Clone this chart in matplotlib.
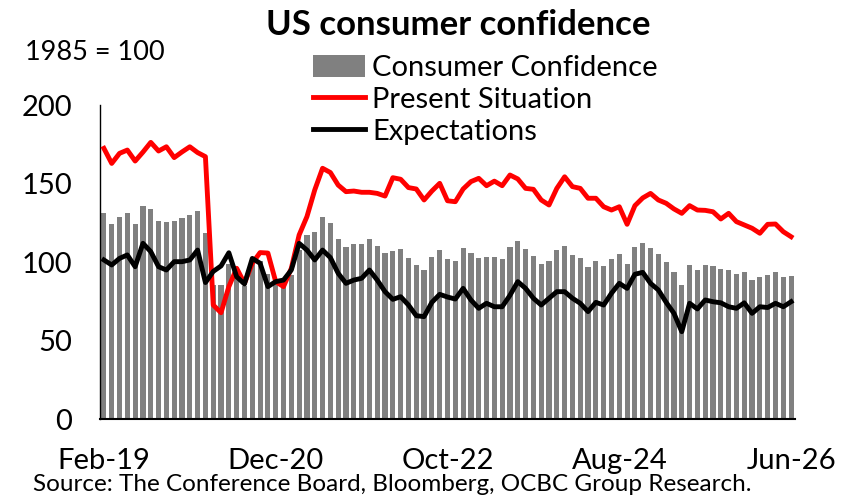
import matplotlib
matplotlib.use("Agg")
import matplotlib.pyplot as plt
import numpy as np

plt.rcParams['font.family'] = ['Lato', 'DejaVu Sans']

# ---- data (monthly, Feb-19 .. Jun-26) ----
tick_labels = ["Feb-19", "Dec-20", "Oct-22", "Aug-24", "Jun-26"]
tick_step = 22

consumer_confidence = [
    131.0, 124.0, 128.9, 131.0, 124.0, 135.7, 133.8, 125.9, 125.7, 126.3, 127.8, 129.9, 132.3, 118.3, 85.3,
    85.4, 98.5, 91.0, 84.5, 101.5, 100.5, 92.5, 86.0, 87.0, 91.7, 107.6, 117.2, 119.3, 128.9, 124.6,
    114.6, 109.3, 111.5, 111.5, 114.6, 110.4, 105.5, 107.0, 108.3, 102.7, 98.1, 94.9, 102.9, 107.6, 101.6,
    100.6, 108.7, 105.5, 102.7, 103.4, 103.2, 101.9, 109.6, 113.4, 108.1, 104.0, 98.7, 100.6, 107.6, 110.5,
    104.5, 102.7, 97.0, 100.8, 97.5, 101.7, 105.3, 99.0, 109.3, 112.3, 108.9, 105.1, 99.8, 93.4, 85.4,
    98.1, 94.9, 98.1, 97.2, 95.3, 94.9, 92.6, 93.8, 88.5, 90.4, 91.7, 93.4, 90.2, 90.8,
]
present_situation = [
    172.4, 162.8, 169.2, 171.3, 164.3, 170.0, 176.2, 170.7, 173.4, 166.5, 170.1, 173.4, 169.7, 167.1, 72.6,
    67.7, 84.3, 96.0, 86.4, 99.2, 106.0, 105.7, 87.5, 84.3, 96.0, 117.2, 128.9, 145.9, 159.7, 157.0,
    149.0, 144.8, 145.2, 144.4, 144.4, 143.7, 142.0, 153.7, 152.7, 147.4, 146.5, 139.5, 145.2, 150.1, 139.0,
    138.4, 146.5, 151.2, 153.3, 148.6, 151.5, 148.6, 155.4, 152.9, 146.9, 146.3, 139.5, 136.3, 146.9, 154.3,
    148.0, 146.9, 140.6, 140.6, 135.2, 133.1, 135.2, 124.0, 135.9, 140.8, 143.7, 139.5, 137.4, 133.8, 131.0,
    135.9, 133.1, 132.9, 132.0, 127.4, 131.0, 125.7, 123.6, 121.5, 118.3, 124.0, 124.2, 119.3, 116.1,
]
expectations = [
    101.3, 98.1, 102.3, 104.5, 97.0, 111.9, 106.6, 97.0, 94.9, 100.2, 100.2, 101.3, 107.6, 86.9, 94.0,
    97.5, 105.9, 90.6, 86.0, 102.3, 99.2, 84.3, 87.5, 88.5, 94.9, 111.9, 107.6, 101.3, 107.6, 102.8,
    92.8, 86.4, 88.5, 89.6, 94.9, 88.5, 81.1, 76.2, 77.9, 72.6, 65.8, 65.2, 74.3, 79.4, 77.7,
    76.4, 83.2, 75.8, 70.5, 73.7, 71.5, 71.5, 78.8, 87.5, 83.2, 76.9, 72.6, 76.9, 81.1, 81.1,
    76.9, 73.7, 68.4, 74.3, 72.6, 80.1, 86.4, 83.2, 92.2, 93.4, 86.4, 82.2, 74.3, 67.3, 55.6,
    73.7, 70.1, 75.8, 74.7, 74.0, 71.5, 70.5, 74.0, 67.3, 71.5, 71.0, 73.7, 71.5, 74.7,
]

x = np.arange(len(consumer_confidence))

fig = plt.figure(figsize=(8.64, 4.98), dpi=100)
ax = fig.add_axes([100/864, 1 - 419/498, 695/864, (419 - 105)/498])

bars = ax.bar(x, consumer_confidence, width=0.66, color="#808080", label="Consumer Confidence", zorder=1)
l1, = ax.plot(x, present_situation, color="#FF0000", lw=3.5, label="Present Situation", zorder=3,
              solid_joinstyle="round")
l2, = ax.plot(x, expectations, color="#000000", lw=3.5, label="Expectations", zorder=4,
              solid_joinstyle="round")

ax.set_xlim(-0.5, len(x) - 0.5)
ax.set_ylim(0, 200)
ax.set_yticks([0, 50, 100, 150, 200])
ax.set_xticks(np.arange(0, len(x), tick_step))
ax.set_xticklabels(tick_labels)
ax.tick_params(axis="both", length=0, labelsize=21)
ax.tick_params(axis="y", pad=20)
ax.tick_params(axis="x", pad=21)
for s in ["top", "right"]:
    ax.spines[s].set_visible(False)
ax.spines["left"].set_linewidth(1.0)
ax.spines["bottom"].set_linewidth(1.5)

fig.text(458/864, 1 - 25/498, "US consumer confidence", ha="center", va="center",
         fontsize=25, fontweight="bold")
fig.text(25/864, 1 - 52/498, "1985 = 100", ha="left", va="center", fontsize=19.5)
fig.text(33/864, 1 - 484/498, "Source: The Conference Board, Bloomberg, OCBC Group Research.",
         ha="left", va="center", fontsize=17.5)

leg = fig.legend([bars, l1, l2], ["Consumer Confidence", "Present Situation", "Expectations"],
                 loc="upper left", bbox_to_anchor=(313/864, 1 - 55/498), frameon=False,
                 fontsize=21, handlelength=1.78, handleheight=0.8, handletextpad=0.25,
                 labelspacing=0.19, borderpad=0, borderaxespad=0)

fig.savefig("out.png", dpi=100)
